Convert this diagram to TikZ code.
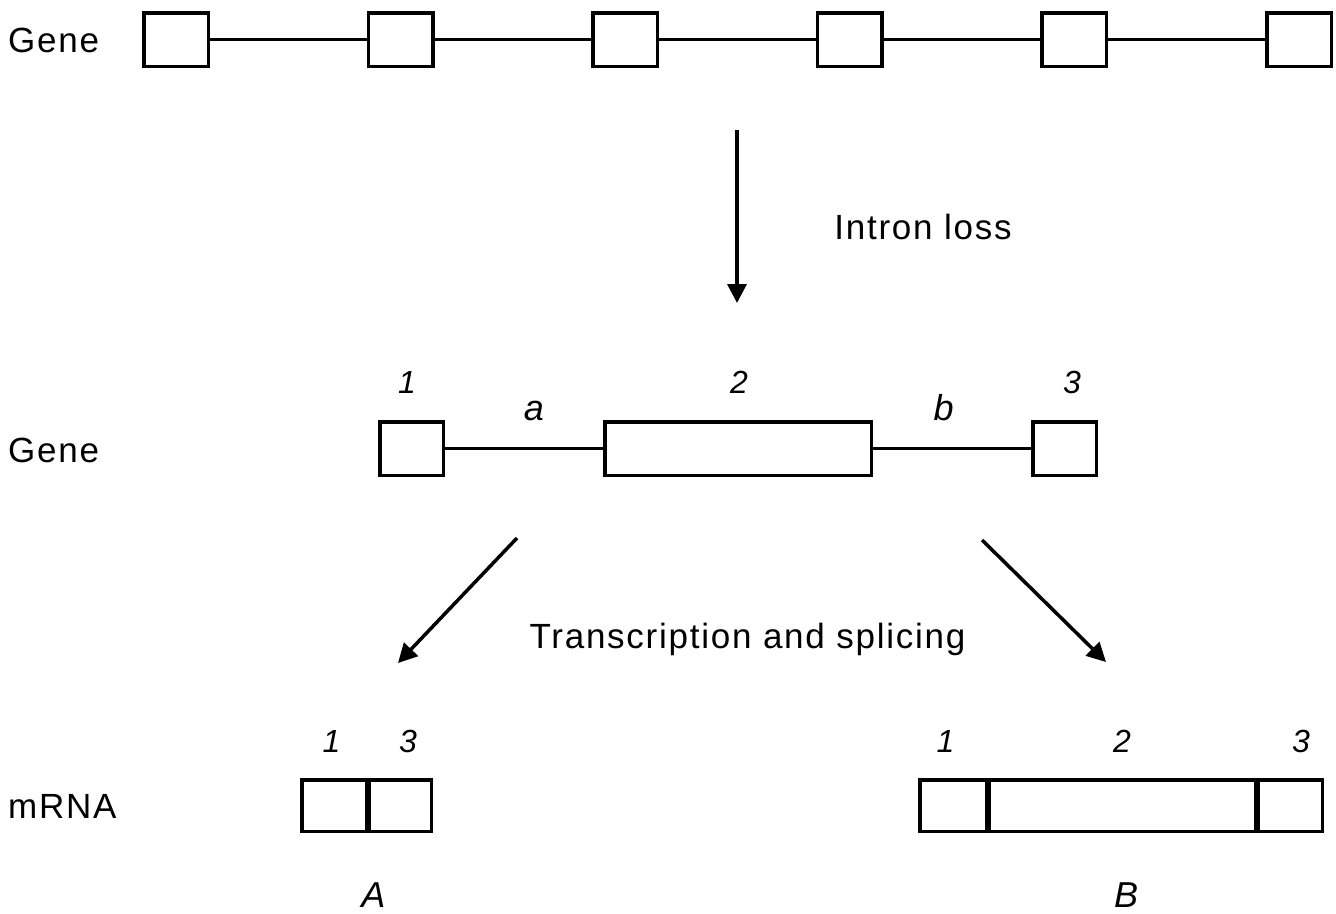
\documentclass[tikz,border=0pt]{standalone}
\usepackage{fontspec}
\setmainfont{Liberation Sans}[LetterSpace=5]
\usetikzlibrary{arrows.meta}
\tikzset{
  exon/.style={draw, line width=3.5pt, inner sep=0pt, minimum height=53.5pt},
  mexon/.style={draw, line width=3.5pt, inner sep=0pt, minimum height=51.5pt},
  conn/.style={line width=3.5pt},
  divider/.style={line width=5.5pt},
  arr/.style={line width=3.5pt, -{Triangle[length=19pt,width=19pt]}},
  big/.style={inner sep=0pt, anchor=base, font=\fontsize{35}{40}\selectfont},
  num/.style={inner sep=0pt, anchor=base, font=\fontsize{32}{36}\selectfont\itshape},
  let/.style={inner sep=0pt, anchor=base, font=\fontsize{36}{40}\selectfont\itshape},
}
\begin{document}
\begin{tikzpicture}[x=1pt,y=-1pt]
\useasboundingbox (0,0) rectangle (1336,913);
% top gene
\node[big, anchor=base west] (g1) at (8,52) {Gene};
\foreach \i/\x in {1/176,2/400.5,3/625,4/849.5,5/1074,6/1299}{
  \node[exon, minimum width=64.5pt] (t\i) at (\x,39.5) {};
}
\foreach \a/\b in {1/2,2/3,3/4,4/5,5/6}{
  \draw[conn] (t\a.east) -- (t\b.west);
}
% intron loss arrow
\coordinate (d0) at (737,130);
\coordinate (d1) at (737,303);
\draw[arr] (d0) -- (d1);
\node[big] (il) at (923,239) {Intron loss};
% middle gene
\node[big, anchor=base west] (g2) at (8,462) {Gene};
\node[exon, minimum width=63.5pt] (m1) at (411.5,448.5) {};
\node[exon, minimum width=266.5pt] (m2) at (738,448.5) {};
\node[exon, minimum width=63.5pt] (m3) at (1064.5,448.5) {};
\draw[conn] (m1.east) -- (m2.west);
\draw[conn] (m2.east) -- (m3.west);
\node[num] (n1) at (407,393) {1};
\node[num] (n2) at (739,393) {2};
\node[num] (n3) at (1072,393) {3};
\node[let] (la) at (534,420) {a};
\node[let] (lb) at (943.5,420) {b};
% transcription arrows
\coordinate (l0) at (517,538);
\coordinate (l1) at (398,663);
\coordinate (r0) at (982,540);
\coordinate (r1) at (1106,662);
\draw[arr] (l0) -- (l1);
\draw[arr] (r0) -- (r1);
\node[big] (ts) at (747.5,648) {Transcription and splicing};
% mRNA
\node[big, anchor=base west] (mr) at (8,818) {mRNA};
\node[mexon, minimum width=65pt] (a1) at (334.25,805.5) {};
\node[mexon, minimum width=64pt] (a3) at (399.25,805.5) {};
\draw[divider] (a1.north east) -- (a1.south east);
\node[num] (an1) at (331.5,752) {1};
\node[num] (an3) at (408,752) {3};
\node[let] (lA) at (373.5,907) {A};
\node[mexon, minimum width=67pt] (b1) at (953.25,805.5) {};
\node[mexon, minimum width=268.5pt] (b2) at (1121.5,805.5) {};
\node[mexon, minimum width=66pt] (b3) at (1289.25,805.5) {};
\draw[divider] (b1.north east) -- (b1.south east);
\draw[divider] (b2.north east) -- (b2.south east);
\node[num] (bn1) at (945.5,752) {1};
\node[num] (bn2) at (1122,752) {2};
\node[num] (bn3) at (1301,752) {3};
\node[let] (lB) at (1126,907) {B};
\end{tikzpicture}
\end{document}
